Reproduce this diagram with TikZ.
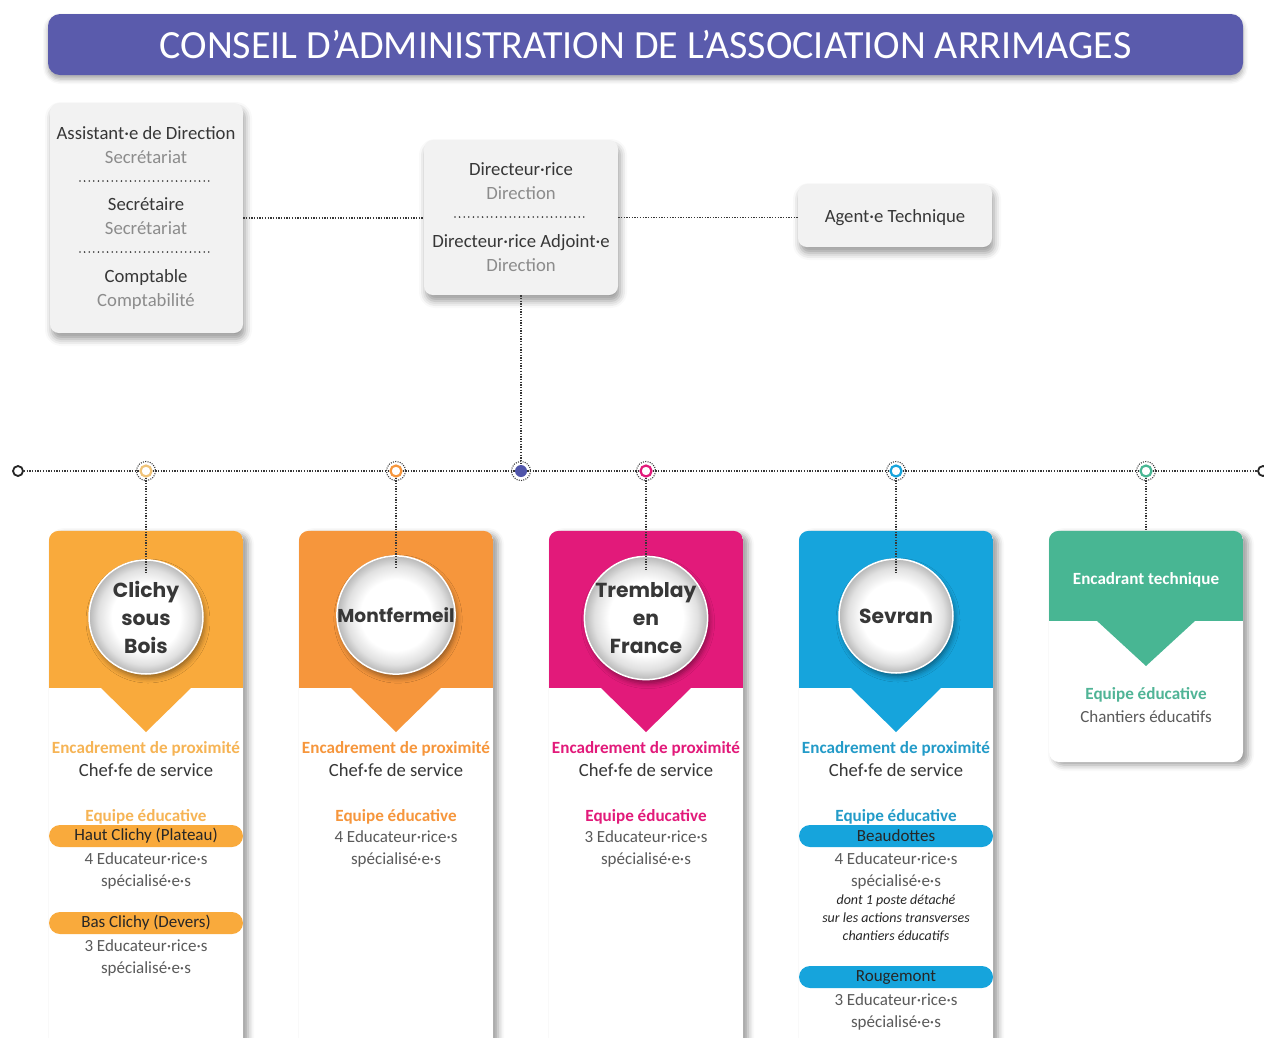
\documentclass[tikz,border=0pt]{standalone}
\usepackage{fontspec}
\setmainfont{Carlito}
\newfontfamily\cityfont{Poppins}
\usetikzlibrary{shadows.blur}
\definecolor{titlec}{RGB}{90,91,172}
\definecolor{boxg}{RGB}{242,242,242}
\definecolor{dark}{RGB}{55,55,55}
\definecolor{lightt}{RGB}{140,140,140}
\definecolor{midt}{RGB}{90,90,90}
\definecolor{dotc}{RGB}{55,55,55}
\definecolor{cA}{RGB}{249,170,60}
\definecolor{cAt}{RGB}{246,180,85}
\definecolor{cAdot}{RGB}{240,195,120}
\definecolor{cB}{RGB}{246,150,60}
\definecolor{cC}{RGB}{226,26,122}
\definecolor{cD}{RGB}{22,164,220}
\definecolor{cDt}{RGB}{35,155,200}
\definecolor{cE}{RGB}{72,182,147}
\definecolor{cEt}{RGB}{80,180,150}
\definecolor{hubc}{RGB}{80,85,170}
\pgfdeclareradialshading{cityball}{\pgfpointorigin}{color(0bp)=(white); color(15bp)=(white); color(21bp)=(black!12); color(25bp)=(black!28); color(50bp)=(black!28)}
\tikzset{
 conn/.style={draw=dotc, line width=1.3pt, dash pattern=on 1.3pt off 1.4pt},
 sepd/.style={draw=dark, line width=1.8pt, line cap=round, dash pattern=on 0pt off 4.6pt},
 graybox/.style={fill=boxg, rounded corners=9pt, inner sep=0, blur shadow={shadow xshift=2pt, shadow yshift=-6pt, shadow blur radius=7pt, shadow opacity=40}},
 titlebar/.style={fill=titlec, rounded corners=12pt, minimum width=1195pt, minimum height=61pt, inner sep=0, text=white, font=\fontsize{40}{46}\selectfont, blur shadow={shadow xshift=0pt, shadow yshift=-4pt, shadow blur radius=5pt, shadow opacity=35}},
 hd/.style={anchor=base, inner sep=0, text=dark, font=\fontsize{18.7}{22}\selectfont},
 sb/.style={anchor=base, inner sep=0, text=lightt, font=\fontsize{18.7}{22}\selectfont},
 card/.style={fill=white, rounded corners=10pt, minimum width=194pt, inner sep=0, blur shadow={shadow xshift=5pt, shadow yshift=-3pt, shadow blur radius=6pt, shadow opacity=40}},
 city/.style={circle, minimum size=114pt, inner sep=0, shading=cityball, draw=white, line width=1.5pt, align=center, text=dark, font=\cityfont\bfseries\fontsize{20.3}{28}\selectfont, blur shadow={shadow xshift=2pt, shadow yshift=-4pt, shadow blur radius=5pt, shadow opacity=40}},
 enc/.style={anchor=base, inner sep=0, font=\bfseries\fontsize{17.1}{20}\selectfont, text=#1},
 chef/.style={anchor=base, inner sep=0, font=\fontsize{18.6}{22}\selectfont, text=dark},
 body/.style={anchor=base, inner sep=0, font=\fontsize{17}{20}\selectfont, text=midt},
 itl/.style={anchor=base, inner sep=0, font=\itshape\fontsize{14}{16}\selectfont, text=black!85},
 pill/.style={fill=#1, rounded corners=11pt, minimum width=194pt, minimum height=22pt, inner sep=0, text=black!85, font=\fontsize{17}{20}\selectfont},
 ring/.style={circle, draw=#1, line width=2.2pt, fill=white, minimum size=11pt, inner sep=0},
 halo/.style={draw=dotc, line width=1.1pt, dash pattern=on 1pt off 1.3pt},
 endring/.style={circle, draw=black!85, line width=1.8pt, fill=white, minimum size=10pt, inner sep=0},
}
\newcommand\hdr[6]{% #1 card node, #2 colour, #3 left x, #4 header bottom y, #5 tip depth, #6 half width
 \begin{scope}
 \clip[rounded corners=10pt] (#1.north west) rectangle (#1.south east);
 \fill[#2] (#3,500) rectangle ++(194,{#4-500});
 \fill[#2] ({#3+97-#6},{#4-1}) -- ++({2*#6},0) -- ++({-#6},{#5+1}) -- cycle;
 \end{scope}}
\begin{document}
\begin{tikzpicture}[x=1pt,y=-1pt]
\useasboundingbox (0,0) rectangle (1264,1037);
\clip (0,0) rectangle (1264,1037);
% title
\node[titlebar] (title) at (645.5,44.5) {CONSEIL D’ADMINISTRATION DE L’ASSOCIATION ARRIMAGES};
% top boxes
\node[graybox, minimum width=193pt, minimum height=230pt] (staff) at (146.5,218) {};
\node[graybox, minimum width=194pt, minimum height=155pt] (dir) at (521,217.5) {};
\node[graybox, minimum width=194pt, minimum height=63pt] (agent) at (895,215.5) {};
\node[hd] (s1) at (146,139) {Assistant·e de Direction};
\node[sb] (s2) at (146,163) {Secrétariat};
\draw[sepd] (80,181) -- (211,181);
\node[hd] (s3) at (146,210) {Secrétaire};
\node[sb] (s4) at (146,234) {Secrétariat};
\draw[sepd] (80,252) -- (211,252);
\node[hd] (s5) at (146,282) {Comptable};
\node[sb] (s6) at (146,306) {Comptabilité};
\node[hd] (r1) at (521,175) {Directeur·rice};
\node[sb] (r2) at (521,199) {Direction};
\draw[sepd] (455,217) -- (586,217);
\node[hd] (r3) at (521,247) {Directeur·rice Adjoint·e};
\node[sb] (r4) at (521,271) {Direction};
\node[hd] (a1) at (895,222) {Agent·e Technique};
\draw[conn] (staff.east) -- (staff.east -| dir.west);
\draw[conn] (dir.east) -- (dir.east -| agent.west);
% timeline
\node[endring] (lend) at (18,471) {};
\node[endring] (rend) at (1263,471) {};
\node[ring=cAdot] (p1) at (146,471) {};
\node[ring=cB] (p2) at (396,471) {};
\node[circle, fill=hubc, minimum size=12pt, inner sep=0] (hub) at (521,471) {};
\node[ring=cC] (p3) at (646,471) {};
\node[ring=cD] (p4) at (896,471) {};
\node[ring=cE] (p5) at (1146,471) {};
\foreach \n in {p1,p2,hub,p3,p4,p5} \draw[halo] (\n) circle (9.5);
\draw[conn] (lend) -- (p1);
\draw[conn] (p1) -- (p2);
\draw[conn] (p2) -- (hub);
\draw[conn] (hub) -- (p3);
\draw[conn] (p3) -- (p4);
\draw[conn] (p4) -- (p5);
\draw[conn] (p5) -- (rend);
\draw[conn] (dir.south) -- (hub);
% cards
\node[card, minimum height=529pt] (card1) at (146,795.5) {};
\node[card, minimum height=529pt] (card2) at (396,795.5) {};
\node[card, minimum height=529pt] (card3) at (646,795.5) {};
\node[card, minimum height=529pt] (card4) at (896,795.5) {};
\node[card, minimum height=231pt] (card5) at (1146,646.5) {};
\hdr{card1}{cA}{49}{688}{44}{46}
\hdr{card2}{cB}{299}{688}{44}{46}
\hdr{card3}{cC}{549}{688}{44}{46}
\hdr{card4}{cD}{799}{688}{44}{46}
\hdr{card5}{cE}{1049}{621}{45}{50}
% circles
\node[city] (city1) at (146,617) {Clichy\\sous\\Bois};
\node[city, font=\cityfont\bfseries\fontsize{18.6}{28}\selectfont] (city2) at (396,615) {Montfermeil};
\node[city] (city3) at (646,618) {Tremblay\\en\\France};
\node[city] (city4) at (896,616) {Sevran};
% card 1
\node[enc=cAt] (e1) at (146,753) {Encadrement de proximité};
\node[chef] (f1) at (146,776) {Chef·fe de service};
\node[enc=cAt] (q1) at (146,821) {Equipe éducative};
\node[pill=cA] (h1) at (146,836) {Haut Clichy (Plateau)};
\node[body] (b1) at (146,864) {4 Educateur·rice·s};
\node[body] (b2) at (146,886) {spécialisé·e·s};
\node[pill=cA] (h2) at (146,923) {Bas Clichy (Devers)};
\node[body] (b3) at (146,951) {3 Educateur·rice·s};
\node[body] (b4) at (146,973) {spécialisé·e·s};
% card 2
\node[enc=cB] (e2) at (396,753) {Encadrement de proximité};
\node[chef] (f2) at (396,776) {Chef·fe de service};
\node[enc=cB] (q2) at (396,821) {Equipe éducative};
\node[body] (b5) at (396,842) {4 Educateur·rice·s};
\node[body] (b6) at (396,864) {spécialisé·e·s};
% card 3
\node[enc=cC] (e3) at (646,753) {Encadrement de proximité};
\node[chef] (f3) at (646,776) {Chef·fe de service};
\node[enc=cC] (q3) at (646,821) {Equipe éducative};
\node[body] (b7) at (646,842) {3 Educateur·rice·s};
\node[body] (b8) at (646,864) {spécialisé·e·s};
% card 4
\node[enc=cDt] (e4) at (896,753) {Encadrement de proximité};
\node[chef] (f4) at (896,776) {Chef·fe de service};
\node[enc=cDt] (q4) at (896,821) {Equipe éducative};
\node[pill=cD] (h3) at (896,836) {Beaudottes};
\node[body] (b9) at (896,864) {4 Educateur·rice·s};
\node[body] (b10) at (896,886) {spécialisé·e·s};
\node[itl] (i1) at (896,904) {dont 1 poste détaché};
\node[itl] (i2) at (896,922) {sur les actions transverses};
\node[itl] (i3) at (896,940) {chantiers éducatifs};
\node[pill=cD] (h4) at (896,977) {Rougemont};
\node[body] (b11) at (896,1005) {3 Educateur·rice·s};
\node[body] (b12) at (896,1027) {spécialisé·e·s};
% card 5
\node[enc=white] (e5) at (1146,584) {Encadrant technique};
\node[enc=cEt] (q5) at (1146,699) {Equipe éducative};
\node[body] (b13) at (1146,722) {Chantiers éducatifs};
% vertical connectors
\draw[conn] (p1) -- ([yshift=-14pt]city1.north);
\draw[conn] (p2) -- ([yshift=-14pt]city2.north);
\draw[conn] (p3) -- ([yshift=-14pt]city3.north);
\draw[conn] (p4) -- ([yshift=-14pt]city4.north);
\draw[conn] (p5) -- (card5.north);
\end{tikzpicture}
\end{document}
